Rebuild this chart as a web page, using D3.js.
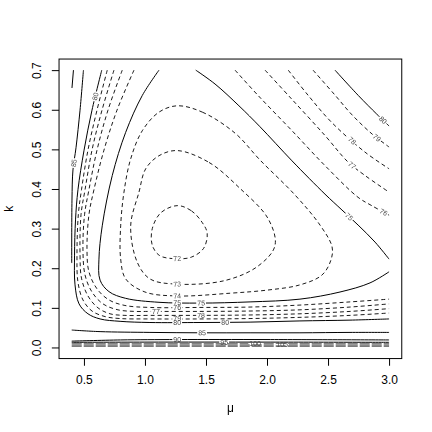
<!DOCTYPE html>
<html>
<head>
<meta charset="utf-8">
<script src="https://cdn.jsdelivr.net/npm/d3@7"></script>
<style>
  body { margin: 0; background: #fff; }
  svg { display: block; font-family: "Liberation Sans", Arial, sans-serif; }
  .labels { opacity: 0.99; }
</style>
</head>
<body>
<svg id="chart" width="432" height="432"></svg>
<script>
//axis ticks
const xTicks = [0.5, 1.0, 1.5, 2.0, 2.5, 3.0];
const yTicks = [0.0, 0.1, 0.2, 0.3, 0.4, 0.5, 0.6, 0.7];

//contour lines, each point is [mu, k]
//closed rings around the minimum
const ring72 = [[1.265,0.358],[1.38,0.345],[1.47,0.315],[1.51,0.288],[1.48,0.250],[1.38,0.228],[1.25,0.224],[1.12,0.232],[1.06,0.258],[1.06,0.300],[1.13,0.340]];
const ring73 = [[1.265,0.497],[1.525,0.467],[1.770,0.404],[2.011,0.324],[2.065,0.257],[1.929,0.206],[1.656,0.169],[1.252,0.160],[1.041,0.173],[0.937,0.215],[0.883,0.307],[0.951,0.392],[1.006,0.451],[1.115,0.484]];
const ring74 = [[1.265,0.610],[1.470,0.594],[1.738,0.541],[1.943,0.473],[2.229,0.385],[2.434,0.309],[2.533,0.254],[2.524,0.221],[2.451,0.183],[2.270,0.158],[2.008,0.145],[1.700,0.137],[1.262,0.130],[1.000,0.140],[0.842,0.173],[0.801,0.223],[0.801,0.307],[0.828,0.392],[0.883,0.476],[0.978,0.547],[1.115,0.594]];

//left + bottom branches
const line75a = [[1.115,0.700],[0.978,0.636],[0.842,0.543],[0.732,0.434],[0.650,0.307],[0.623,0.223],[0.632,0.170],[0.705,0.141],[0.842,0.124],[1.115,0.114],[1.451,0.112],[1.861,0.115],[2.270,0.122],[2.598,0.140],[2.844,0.163],[3.0,0.191]];
const line76a = [[0.910,0.7],[0.771,0.599],[0.664,0.498],[0.582,0.398],[0.541,0.335],[0.525,0.246],[0.541,0.191],[0.607,0.148],[0.705,0.120],[0.836,0.106],[1.041,0.101],[1.451,0.101],[1.861,0.102],[2.270,0.107],[2.680,0.115],[3.0,0.122]];
const line77a = [[0.814,0.7],[0.697,0.599],[0.607,0.498],[0.541,0.398],[0.505,0.335],[0.492,0.246],[0.509,0.183],[0.566,0.140],[0.656,0.110],[0.779,0.095],[0.918,0.091],[1.041,0.091],[1.451,0.091],[1.861,0.092],[2.270,0.095],[2.680,0.102],[3.0,0.110]];
const line78a = [[0.746,0.7],[0.648,0.599],[0.566,0.498],[0.509,0.398],[0.476,0.335],[0.468,0.233],[0.480,0.175],[0.533,0.130],[0.615,0.100],[0.714,0.085],[0.836,0.081],[1.041,0.081],[1.451,0.081],[1.861,0.082],[2.270,0.085],[2.680,0.091],[3.0,0.098]];
const line79a = [[0.691,0.7],[0.607,0.599],[0.533,0.498],[0.480,0.398],[0.454,0.335],[0.443,0.233],[0.451,0.165],[0.492,0.120],[0.566,0.092],[0.673,0.078],[0.796,0.073],[1.041,0.072],[1.451,0.072],[1.861,0.073],[2.270,0.076],[2.680,0.081],[3.0,0.087]];
const line80a = [[0.646,0.7],[0.566,0.599],[0.501,0.498],[0.451,0.398],[0.431,0.322],[0.423,0.233],[0.427,0.158],[0.460,0.110],[0.533,0.085],[0.632,0.072],[0.796,0.066],[1.041,0.063],[1.451,0.063],[1.861,0.064],[2.270,0.067],[2.680,0.069],[3.0,0.072]];
const line85a = [[0.496,0.7],[0.468,0.599],[0.435,0.504],[0.410,0.448],[0.402,0.372],[0.400,0.213]];
const line90a = [[0.402,0.655],[0.414,0.7]];

//top right branches
const line75b = [[1.416,0.700],[1.574,0.665],[1.770,0.610],[1.943,0.557],[2.205,0.471],[2.475,0.387],[2.614,0.347],[2.746,0.309],[2.885,0.266],[3.0,0.223]];
const line76b = [[1.738,0.7],[1.927,0.636],[2.202,0.548],[2.475,0.459],[2.746,0.379],[2.858,0.358],[3.0,0.334]];
const line77b = [[1.984,0.7],[2.202,0.627],[2.475,0.535],[2.664,0.468],[2.803,0.434],[3.0,0.392]];
const line78b = [[2.174,0.7],[2.338,0.636],[2.530,0.568],[2.803,0.493],[3.0,0.451]];
const line79b = [[2.377,0.7],[2.557,0.637],[2.697,0.587],[2.860,0.539],[3.0,0.506]];
const line80b = [[2.557,0.7],[2.748,0.636],[2.899,0.589],[3.0,0.559]];

//the crowded lines near k = 0
const line85b = [[0.4,0.044],[0.632,0.040],[1.041,0.038],[1.468,0.037],[1.861,0.037],[2.270,0.037],[2.680,0.038],[3.0,0.038]];
const line90b = [[0.4,0.016],[0.8,0.019],[1.264,0.020],[2.0,0.020],[3.0,0.019]];
const line95 = [[0.4,0.013],[1.0,0.0135],[2.0,0.0135],[3.0,0.013]];
const line100 = [[0.4,0.010],[3.0,0.010]];
const line105 = [[0.4,0.007],[3.0,0.007]];
const line110 = [[0.4,0.0045],[3.0,0.0045]];
const line115 = [[0.4,0.0025],[3.0,0.0025]];

//contour labels: [level, mu, k]
const labelSpots = [
  [72,1.264,0.226],[73,1.264,0.160],[74,1.264,0.130],[75,1.264,0.112],[75,1.460,0.112],
  [76,1.264,0.097],[77,1.090,0.084],[79,1.264,0.074],[78,1.460,0.077],[80,1.264,0.064],
  [80,1.657,0.064],[85,1.468,0.037],[90,1.264,0.020],[95,1.649,0.014],[100,1.903,0.010],
  [105,2.124,0.007],
  [80,2.950,0.574],[79,2.899,0.529],[78,2.694,0.521],[77,2.689,0.457],[76,2.950,0.338],[75,2.657,0.325],
  [80,0.615,0.632],[85,0.402,0.466]
];

document.addEventListener("DOMContentLoaded", () => {

  const width = 432;
  const height = 432;
  //R default margins (5.1, 4.1, 4.1, 2.1 lines)
  const margin = {top: 59.04, right: 30.24, bottom: 73.44, left: 59.04};
  const plotW = width - margin.left - margin.right;
  const plotH = height - margin.top - margin.bottom;

  //4% padding like R
  const x = d3.scaleLinear().domain([0.296, 3.104]).range([margin.left, margin.left + plotW]);
  const y = d3.scaleLinear().domain([-0.028, 0.728]).range([margin.top + plotH, margin.top]);

  const contours = [
    {level: 72, pts: ring72, closed: true},
    {level: 73, pts: ring73, closed: true},
    {level: 74, pts: ring74, closed: true},
    {level: 75, pts: line75a}, {level: 75, pts: line75b},
    {level: 76, pts: line76a}, {level: 76, pts: line76b},
    {level: 77, pts: line77a}, {level: 77, pts: line77b},
    {level: 78, pts: line78a}, {level: 78, pts: line78b},
    {level: 79, pts: line79a}, {level: 79, pts: line79b},
    {level: 80, pts: line80a}, {level: 80, pts: line80b},
    {level: 85, pts: line85a}, {level: 85, pts: line85b},
    {level: 90, pts: line90a}, {level: 90, pts: line90b},
    {level: 95, pts: line95},
    {level: 100, pts: line100},
    {level: 105, pts: line105},
    {level: 110, pts: line110},
    {level: 115, pts: line115}
  ];

  const svg = d3.select("#chart");
  const defs = svg.append("defs");

  const lineGen = d3.line()
    .x(d => x(d[0]))
    .y(d => y(d[1]))
    .curve(d3.curveCatmullRom.alpha(0.5));

  const ringGen = d3.line()
    .x(d => x(d[0]))
    .y(d => y(d[1]))
    .curve(d3.curveCatmullRomClosed.alpha(0.5));

  const lineG = svg.append("g");
  const labelG = svg.append("g")
    .attr("class", "labels")
    .attr("font-size", 7)
    .attr("fill", "#444");

  //labels sit on the nearest segment of their own level, the line gets a gap there
  const gaps = {};
  labelSpots.forEach(function ([lev, mu, k]) {
    const px = x(mu), py = y(k);
    let best = null;
    contours.filter(c => c.level === lev).forEach(function (c) {
      const p = c.pts.map(d => [x(d[0]), y(d[1])]);
      if (c.closed) p.push(p[0]);
      for (let i = 0; i < p.length - 1; i++) {
        const ax = p[i][0], ay = p[i][1];
        const dx = p[i + 1][0] - ax, dy = p[i + 1][1] - ay;
        let t = ((px - ax) * dx + (py - ay) * dy) / (dx * dx + dy * dy);
        t = Math.max(0, Math.min(1, t));
        const qx = ax + t * dx, qy = ay + t * dy;
        const dist = Math.hypot(px - qx, py - qy);
        if (!best || dist < best.dist) {
          best = {dist: dist, qx: qx, qy: qy, ang: Math.atan2(dy, dx) * 180 / Math.PI};
        }
      }
    });
    let ang = best.ang;
    if (ang > 90) ang -= 180;
    if (ang <= -90) ang += 180;

    const t = labelG.append("text")
      .attr("transform", `translate(${best.qx},${best.qy}) rotate(${ang})`)
      .attr("text-anchor", "middle")
      .attr("dy", "0.35em")
      .text(lev);
    const w = t.node().getComputedTextLength();
    (gaps[lev] = gaps[lev] || []).push({qx: best.qx, qy: best.qy, ang: ang, w: w});
  });

  Object.keys(gaps).forEach(function (lev) {
    const m = defs.append("mask")
      .attr("id", "gap" + lev)
      .attr("maskUnits", "userSpaceOnUse")
      .attr("x", 0).attr("y", 0)
      .attr("width", width).attr("height", height);
    m.append("rect").attr("width", width).attr("height", height).attr("fill", "white");
    gaps[lev].forEach(function (g) {
      m.append("rect")
        .attr("x", -g.w / 2 - 1)
        .attr("y", -2.5)
        .attr("width", g.w + 2)
        .attr("height", 5)
        .attr("fill", "black")
        .attr("transform", `translate(${g.qx},${g.qy}) rotate(${g.ang})`);
    });
  });

  //solid for multiples of 5, dashed for the rest; the lines crowded at k ~ 0 are thin
  contours.forEach(function (c) {
    const solid = c.level % 5 === 0;
    const thin = c.level >= 100;
    lineG.append("path")
      .attr("d", (c.closed ? ringGen : lineGen)(c.pts))
      .attr("fill", "none")
      .attr("stroke", "#000")
      .attr("stroke-opacity", thin ? 0.7 : 1)
      .attr("stroke-width", thin ? 0.7 : (solid ? 1 : 0.9))
      .attr("stroke-dasharray", solid ? (thin ? "10,2" : null) : "4,3")
      .attr("mask", gaps[c.level] ? `url(#gap${c.level})` : null);
  });

  //axes
  const xAxis = d3.axisBottom(x)
    .tickValues(xTicks)
    .tickFormat(d3.format(".1f"))
    .tickSize(7.2)
    .tickPadding(10)
    .tickSizeOuter(0);

  svg.append("g")
    .attr("transform", `translate(0,${margin.top + plotH})`)
    .call(xAxis)
    .call(g => g.select(".domain").remove())
    .attr("font-size", 12)
    .attr("font-family", null);

  const yAxis = d3.axisLeft(y)
    .tickValues(yTicks)
    .tickFormat(d3.format(".1f"))
    .tickSize(7.2)
    .tickSizeOuter(0);

  svg.append("g")
    .attr("transform", `translate(${margin.left},0)`)
    .call(yAxis)
    .call(g => g.select(".domain").remove())
    .attr("font-size", 12)
    .attr("font-family", null)
    .call(g => g.selectAll(".tick text")
      .attr("x", null)
      .attr("dy", null)
      .attr("text-anchor", "middle")
      .attr("transform", "translate(-17.7,0) rotate(-90)"));

  //box
  svg.append("rect")
    .attr("x", margin.left)
    .attr("y", margin.top)
    .attr("width", plotW)
    .attr("height", plotH)
    .attr("fill", "none")
    .attr("stroke", "#000");

  //axis titles
  svg.append("text")
    .attr("x", margin.left + plotW / 2)
    .attr("y", 412)
    .attr("text-anchor", "middle")
    .attr("font-size", 12)
    .text("μ");

  svg.append("text")
    .attr("transform", `translate(13,${margin.top + plotH / 2}) rotate(-90)`)
    .attr("text-anchor", "middle")
    .attr("font-size", 12)
    .text("k");
});
</script>
</body>
</html>
